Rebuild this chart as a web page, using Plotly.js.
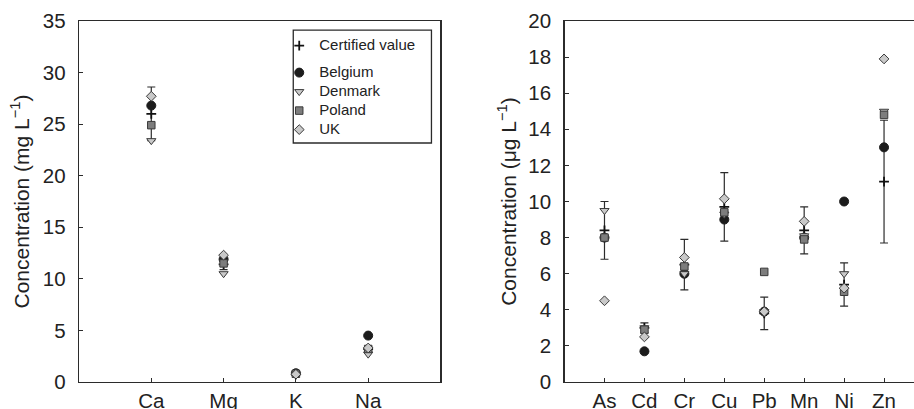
<!DOCTYPE html>
<html>
<head>
<meta charset="utf-8">
<script src="https://cdn.plot.ly/plotly-3.0.1.min.js"></script>
<style>html,body{margin:0;padding:0;background:#fff;}#chart{width:914px;height:409px;}</style>
</head>
<body>
<div id="chart"></div>
<script>
// Left panel: major elements (mg L-1)
const majorElements = ["Ca", "Mg", "K", "Na"];
const majorCertified = [26.0, 11.4, 0.75, 3.2];
const majorCertifiedErr = [2.6, 0.5, 0.1, 0.2];
const majorBelgium = [26.8, 11.9, 0.85, 4.5];
const majorDenmark = [23.4, 10.5, 0.7, 2.7];
const majorPoland = [24.9, 11.5, 0.8, 3.2];
const majorUK = [27.7, 12.3, 0.75, 3.3];

// Right panel: trace elements (ug L-1)
const traceElements = ["As", "Cd", "Cr", "Cu", "Pb", "Mn", "Ni", "Zn"];
const traceCertified = [8.4, 3.0, 6.5, 9.7, 3.8, 8.4, 5.4, 11.1];
const traceCertifiedErr = [1.6, 0.28, 1.4, 1.9, 0.9, 1.3, 1.2, 3.4];
const traceBelgium = [8.0, 1.7, 6.0, 9.0, 3.9, 8.0, 10.0, 13.0];
const traceDenmark = [9.5, 3.0, 6.0, 9.3, 3.9, 8.1, 6.0, 15.0];
const tracePoland = [8.0, 2.9, 6.4, 9.4, 6.1, 7.9, 5.0, 14.8];
const traceUK = [4.5, 2.5, 6.9, 10.15, 3.9, 8.9, 5.2, 17.9];

const seriesNames = ["Certified value", "Belgium", "Denmark", "Poland", "UK"];

const dark = "#2b2b2b";
const styles = {
  "Belgium": {symbol: "circle", size: 9, color: "#1c1c1c", line: {color: "#1c1c1c", width: 1}},
  "Denmark": {symbol: "triangle-down", size: 8, color: "#c9c9c9", line: {color: "#3a3a3a", width: 1}},
  "Poland": {symbol: "square", size: 7.5, color: "#7d7d7d", line: {color: "#3a3a3a", width: 1}},
  "UK": {symbol: "diamond", size: 7.5, color: "#c9c9c9", line: {color: "#3a3a3a", width: 1}}
};

function posOf(cats) { return cats.map((c, i) => i + 1); }
function legName(s) { return '<span style="font-size:15px">' + s + '</span>'; }

function buildPanel(cats, cert, certErr, countries, xa, ya, showLegend) {
  const x = posOf(cats);
  const out = [];
  out.push({
    x: x, y: cert, type: "scatter", mode: "markers", name: legName(seriesNames[0]),
    xaxis: xa, yaxis: ya, showlegend: showLegend, legendgroup: "cert",
    marker: {symbol: "cross-thin", size: 7, line: {color: "#111", width: 1.8}, color: "#111"},
    error_y: {type: "data", array: certErr, visible: true, color: dark, thickness: 1.2, width: 4}
  });
  ["Belgium", "Denmark", "Poland", "UK"].forEach((nm, k) => {
    out.push({
      x: x, y: countries[k], type: "scatter", mode: "markers", name: legName(nm),
      xaxis: xa, yaxis: ya, showlegend: showLegend, legendgroup: "countries",
      marker: styles[nm]
    });
  });
  return out;
}

const data = [].concat(
  buildPanel(majorElements, majorCertified, majorCertifiedErr,
    [majorBelgium, majorDenmark, majorPoland, majorUK], "x", "y", true),
  buildPanel(traceElements, traceCertified, traceCertifiedErr,
    [traceBelgium, traceDenmark, tracePoland, traceUK], "x2", "y2", false)
);

const fontFam = "Liberation Sans, Arial, sans-serif";
const axisCommon = {
  showgrid: false, zeroline: false, showline: true, linecolor: dark, linewidth: 1.3,
  ticks: "inside", ticklen: 4, tickcolor: dark, tickwidth: 1,
  tickfont: {family: fontFam, size: 20.5, color: "#222"}
};

const layout = {
  width: 914, height: 409,
  margin: {l: 79, r: 0, t: 21, b: 27},
  paper_bgcolor: "#fff", plot_bgcolor: "#fff",
  font: {family: fontFam, color: "#222"},
  showlegend: true,
  legend: {
    x: 0.2398, y: 0.972, xanchor: "left", yanchor: "top",
    borderwidth: 0, bgcolor: "rgba(0,0,0,0)",
    font: {family: fontFam, size: 12.3, color: "#222"},
    traceorder: "grouped", tracegroupgap: 8, itemwidth: 30
  },
  shapes: [{
    type: "rect", xref: "paper", yref: "paper",
    x0: 0.2566, x1: 0.4221, y0: 0.662, y1: 0.975,
    line: {color: dark, width: 1.3}, fillcolor: "rgba(0,0,0,0)", layer: "below"
  }],
  xaxis: Object.assign({}, axisCommon, {
    domain: [0, 0.4329], range: [0, 5], mirror: true,
    tickmode: "array", tickvals: posOf(majorElements), ticktext: majorElements
  }),
  yaxis: Object.assign({}, axisCommon, {
    range: [0, 35], mirror: true, dtick: 5, tick0: 0, ticklabelstandoff: 8,
    title: {text: "Concentration (mg L<sup>−1</sup>)", font: {family: fontFam, size: 21, color: "#222"}, standoff: 7}
  }),
  xaxis2: Object.assign({}, axisCommon, {
    domain: [0.5815, 1], range: [0, 8.75], mirror: true, anchor: "y2",
    tickmode: "array", tickvals: posOf(traceElements), ticktext: traceElements
  }),
  yaxis2: Object.assign({}, axisCommon, {
    range: [0, 20], mirror: false, dtick: 2, tick0: 0, anchor: "x2", ticklabelstandoff: 8,
    title: {text: "Concentration (μg L<sup>−1</sup>)", font: {family: fontFam, size: 21, color: "#222"}, standoff: 6}
  })
};

Plotly.newPlot("chart", data, layout, {displayModeBar: false, staticPlot: true});
</script>
</body>
</html>
